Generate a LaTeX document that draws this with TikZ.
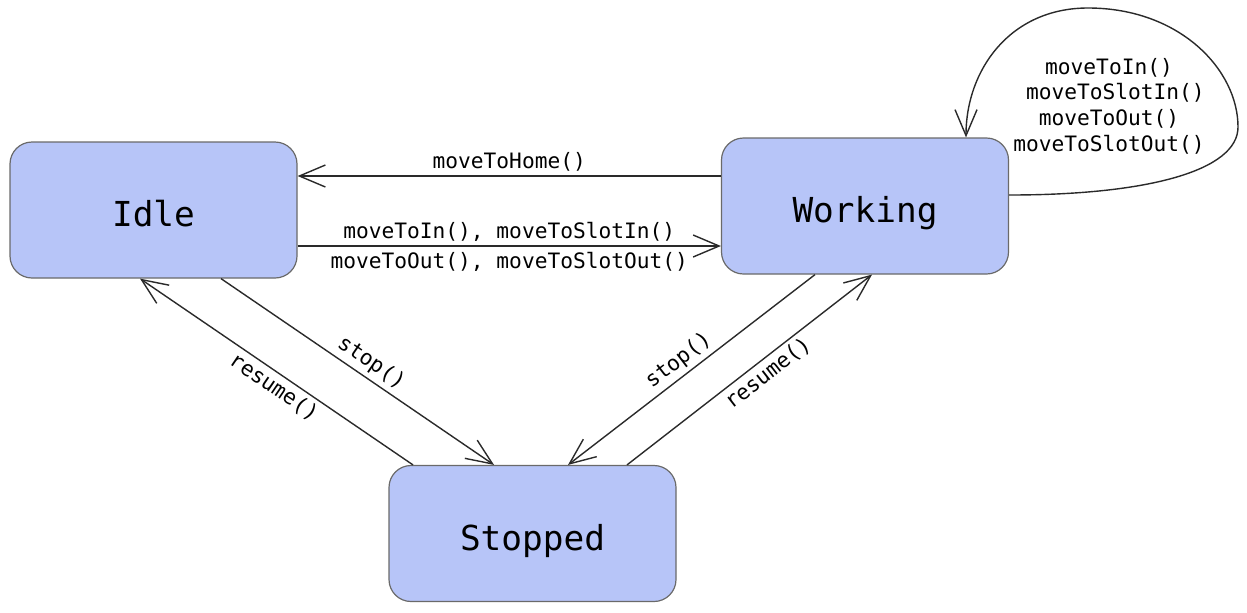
\documentclass[tikz,border=0pt]{standalone}
\usepackage{fontspec}
\newfontfamily\dvm{DejaVu Sans Mono}
\usetikzlibrary{arrows.meta,calc}
\definecolor{boxfill}{HTML}{B7C5F8}
\definecolor{boxline}{HTML}{6A6A6A}
\definecolor{arrline}{HTML}{2A2A2A}
\begin{document}
\begin{tikzpicture}[x=0.5pt,y=-0.5pt,
  statebox/.style={draw=boxline, line width=0.6pt, fill=boxfill, rounded corners=11pt,
    minimum width=143.5pt, minimum height=68pt, inner sep=0pt,
    text height=16.5pt, text depth=0pt,
    font=\dvm\fontsize{17.2pt}{20pt}\selectfont},
  arr/.style={draw=arrline, line width=0.7pt,
    -{Straight Barb[length=13pt,width=11pt,line width=0.7pt]}},
  lab/.style={font=\dvm\fontsize{10.6pt}{12.85pt}\selectfont, inner sep=2pt}]
\useasboundingbox (0,0) rectangle (1247,612);
\node[statebox] (idle) at (153.5,210) {Idle};
\node[statebox] (work) at (865,206) {Working};
\node[statebox] (stopped) at (532.5,533.5) {Stopped};

\draw[arr] ($(work.west)+(0,-30)$) -- node[lab,above] {moveToHome()} ($(idle.east)+(0,-34)$);
\draw[arr] ($(idle.east)+(0,36)$) --
  node[lab,above] {moveToIn(), moveToSlotIn()}
  node[lab,below,yshift=-1pt] {moveToOut(), moveToSlotOut()} ($(work.west)+(0,40)$);

\draw[arr] ($(idle.south)+(67.5,0)$) -- node[lab,sloped,above,pos=0.52] {stop()} ($(stopped.north)+(-38.5,0)$);
\draw[arr] ($(stopped.north)+(-119.5,0)$) -- node[lab,sloped,below,pos=0.48] {resume()} ($(idle.south)+(-13.5,0)$);
\draw[arr] ($(work.south)+(-50,0)$) -- node[lab,sloped,above,pos=0.515] {stop()} ($(stopped.north)+(35.5,0)$);
\draw[arr] ($(stopped.north)+(94.5,0)$) -- node[lab,sloped,below,pos=0.54] {resume()} ($(work.south)+(7,0)$);

\coordinate (lp1) at (1238,127);
\coordinate (lp2) at (1088,8);
\draw[arr] ($(work.east)+(0,-11)$) .. controls (1150,195) and (1238,170) .. (lp1)
  .. controls (1238,70) and (1180,8) .. (lp2)
  .. controls (1010,8) and (966,70) .. ($(work.north)+(101,0)$);
\node[lab, align=center] (looplab) at (1109,106) {moveToIn()\\\hspace*{6.375pt}moveToSlotIn()\\moveToOut()\\moveToSlotOut()};
\end{tikzpicture}
\end{document}
